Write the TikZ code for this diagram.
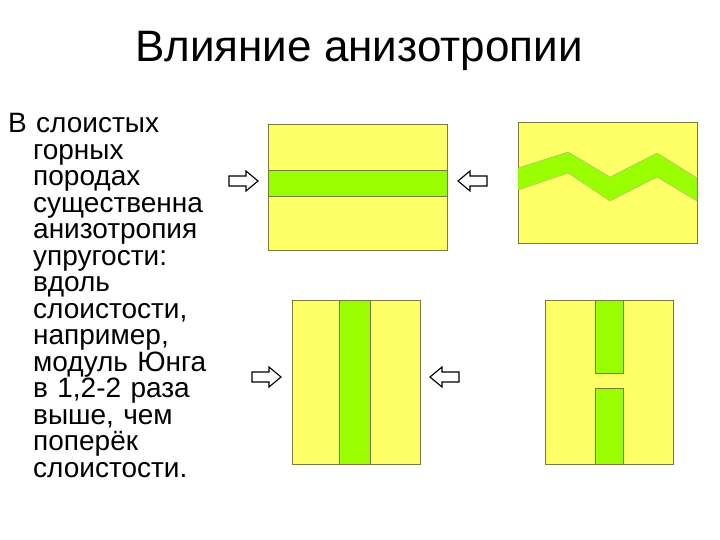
\documentclass[tikz,border=0pt]{standalone}
\usepackage{fontspec}
\setmainfont{Liberation Sans}
\definecolor{layeryellow}{HTML}{FFFF66}
\definecolor{layergreen}{HTML}{99FF00}
\definecolor{edge}{HTML}{7A7A3A}
\tikzset{plate/.style={fill=layeryellow, draw=edge, line width=0.6pt},
  band/.style={fill=layergreen, draw=edge, line width=0.6pt},
  push/.style={fill=white, draw=black, line width=1.1pt, line join=miter}}
% block arrow: tail x, centre y, direction (1 right, -1 left)
\newcommand{\PUSH}[3]{\draw[push, shift={(#1,#2)}, xscale=#3]
  (0,-5) -- (17,-5) -- (17,-10) -- (29,0) -- (17,10) -- (17,5) -- (0,5) -- cycle;}

\begin{document}
\begin{tikzpicture}[x=1pt, y=-1pt]
\path[fill=white] (0,0) rectangle (720,540);
\useasboundingbox (0,0) rectangle (720,540);

\node (title) [anchor=base, inner sep=0pt, font=\fontsize{44}{50}\selectfont]
  at (359,62) {Влияние анизотропии};

\node (body) [anchor=base west, inner sep=0pt, text width=235pt,
  font=\fontsize{28}{26.5}\selectfont] at (8,133)
  {\raggedright\lineskiplimit=-10pt\hangindent=25pt\hangafter=1
   В слоистых\newline горных\newline породах\newline существенна\newline
   анизотропия\newline упругости:\newline вдоль\newline слоистости,\newline
   например,\newline модуль Юнга\newline в 1,2-2 раза\newline выше, чем\newline
   поперёк\newline слоистости.\par};

% along the layer
\draw[plate] (268,124) rectangle (447,250);
\draw[band] (268,170) rectangle (447,196);
\PUSH{229}{181}{1}
\PUSH{487}{181}{-1}

% folded layer
\draw[plate] (518,122) rectangle (697,243);
\fill[layergreen, draw=edge!60, line width=0.4pt] (518,168) -- (568,152) -- (610,177)
  -- (657,153) -- (697,178) -- (697,201) -- (657,177) -- (610,201) -- (568,173)
  -- (518,190) -- cycle;

% across the layer
\draw[plate] (292,300) rectangle (420,464);
\draw[band] (339,300) rectangle (370,464);
\PUSH{252}{377}{1}
\PUSH{459}{377}{-1}

% broken layer
\draw[plate] (545,300) rectangle (673,464);
\draw[band] (595,300) rectangle (623,373);
\draw[band] (595,388) rectangle (623,464);
\end{tikzpicture}
\end{document}
